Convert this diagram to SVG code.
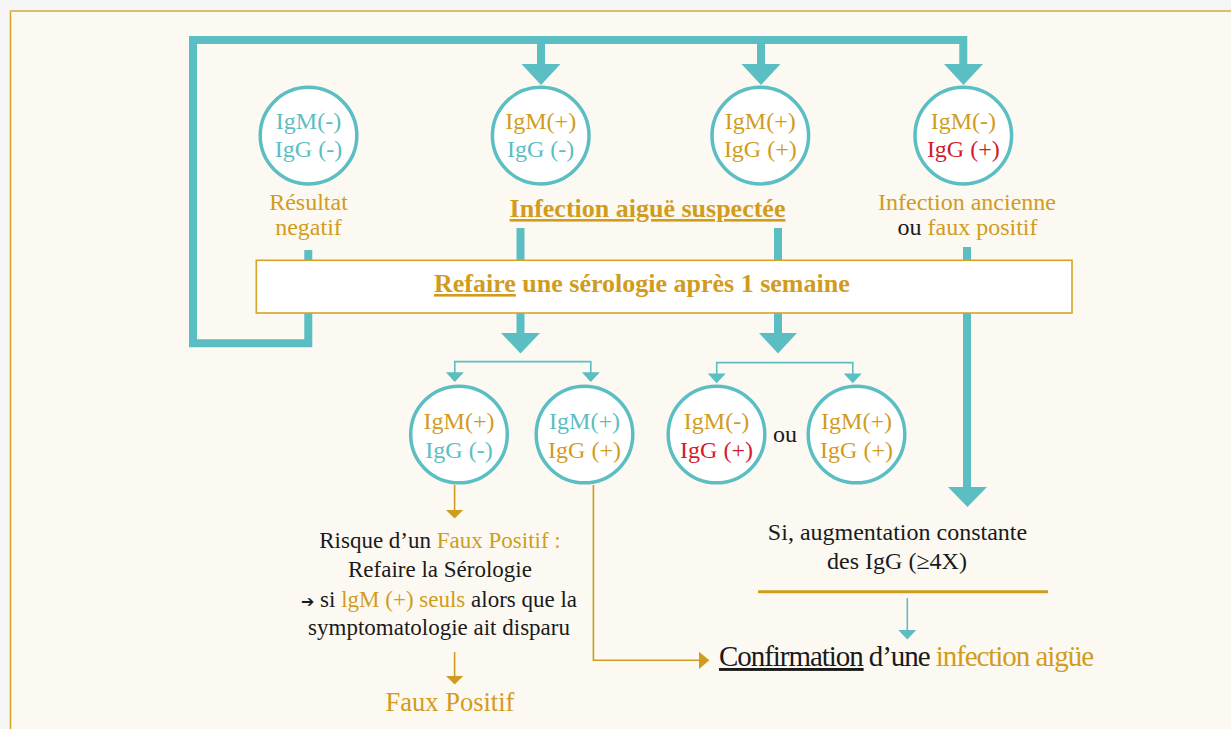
<svg xmlns="http://www.w3.org/2000/svg" width="1231" height="729" viewBox="0 0 1231 729">
  <style>
    text { font-family: "Liberation Serif", "Times New Roman", serif; font-size: 24px; }
    .mid { text-anchor: middle; }
    .gold { fill: #d19c1d; }
    .teal { fill: #5bbec2; }
    .red { fill: #d31a2c; }
    .blk { fill: #1a1a1a; }
    .bold { font-weight: bold; font-size: 26px; }
    .ul { text-decoration: underline; }
    .s23 { font-size: 23px; }
    .s26 { font-size: 26.5px; }
    .s29 { font-size: 29px; }
    .arrowglyph { font-family: "DejaVu Sans", sans-serif; font-size: 16px; }
    .circ { fill: #ffffff; stroke: #5bbec2; stroke-width: 3.5; }
    .thick { fill: none; stroke: #5bbec2; stroke-width: 8; stroke-linejoin: miter; }
    .thinT { fill: none; stroke: #5bbec2; stroke-width: 1.6; }
    .thinG { fill: none; stroke: #d19c1d; stroke-width: 1.6; }
    .headT { fill: #5bbec2; }
    .headG { fill: #d19c1d; }
  </style>
  <rect x="0" y="0" width="1231" height="729" fill="#f5f5f5"/>
  <rect x="10.5" y="11" width="1230" height="730" fill="#fcf9f2" stroke="#d6a424" stroke-width="1.5"/>
  <line x1="10" y1="11" x2="1231" y2="11" stroke="#dcbd6e" stroke-width="2"/>

  <g id="connectors">
    <path class="thick" d="M308.3,250 V343.3 H193 V40 H963.3 V66"/>
    <path class="thick" d="M541,40 V66"/>
    <path class="thick" d="M761,40 V66"/>
    <polygon class="headT" points="521.5,64 560.5,64 541,85"/>
    <polygon class="headT" points="741.5,64 780.5,64 761,85"/>
    <polygon class="headT" points="944,64 983,64 963.5,85"/>
    <path class="thick" d="M520.5,228 V335"/>
    <path class="thick" d="M778,228 V335"/>
    <polygon class="headT" points="501,333 540,333 520.5,353.5"/>
    <polygon class="headT" points="759,333 797,333 778,353.5"/>
    <path class="thick" d="M967,247 V490"/>
    <polygon class="headT" points="948,487 987,487 967.5,507"/>
    <path class="thinT" d="M454.8,373 V361.6 H590.8 V373"/>
    <polygon class="headT" points="445.8,372.3 463.8,372.3 454.8,382"/>
    <polygon class="headT" points="581.8,372.3 599.8,372.3 590.8,382"/>
    <path class="thinT" d="M716.7,374 V362.6 H852.8 V374"/>
    <polygon class="headT" points="707.7,373.5 725.7,373.5 716.7,383.3"/>
    <polygon class="headT" points="843.8,373.5 861.8,373.5 852.8,383.3"/>
    <path class="thinG" d="M454.6,485 V511"/>
    <polygon class="headG" points="446,510 463.2,510 454.6,518.5"/>
    <path class="thinG" d="M454.6,652 V677"/>
    <polygon class="headG" points="446,676 463.2,676 454.6,684.5"/>
    <path class="thinG" d="M593.4,485 V660.3 H700"/>
    <polygon class="headG" points="699,651.7 699,669 709.3,660.3"/>
    <line x1="758" y1="591.7" x2="1048" y2="591.7" stroke="#d19c1d" stroke-width="3"/>
    <path class="thinT" d="M907.3,598 V631"/>
    <polygon class="headT" points="898.3,630 916.3,630 907.3,639.5"/>
  </g>

  <g id="box-refaire">
    <rect x="256.3" y="260.3" width="815.7" height="52.7" fill="#ffffff" stroke="#d6a424" stroke-width="1.6"/>
    <text class="bold gold" x="434" y="292"><tspan class="ul">Refaire</tspan> une sérologie après 1 semaine</text>
  </g>

  <g id="node-negatif">
    <circle class="circ" cx="308.5" cy="135.6" r="48.3"/>
    <text class="mid teal" x="308.5" y="129.3">IgM(-)</text>
    <text class="mid teal" x="308.5" y="156.7">IgG (-)</text>
    <text class="mid gold" x="308.5" y="209.5">Résultat</text>
    <text class="mid gold" x="308.5" y="235">negatif</text>
  </g>

  <g id="node-igm-pos-igg-neg">
    <circle class="circ" cx="540.7" cy="135.6" r="48.3"/>
    <text class="mid gold" x="540.7" y="129.3">IgM(+)</text>
    <text class="mid teal" x="540.7" y="156.7">IgG (-)</text>
  </g>

  <g id="node-igm-pos-igg-pos">
    <circle class="circ" cx="760.3" cy="135.6" r="48.3"/>
    <text class="mid gold" x="760.3" y="129.3">IgM(+)</text>
    <text class="mid gold" x="760.3" y="156.7">IgG (+)</text>
  </g>

  <g id="label-suspectee">
    <text class="mid bold gold ul" x="647.5" y="217">Infection aiguë suspectée</text>
  </g>

  <g id="node-ancienne">
    <circle class="circ" cx="963.3" cy="135.6" r="48.3"/>
    <text class="mid gold" x="963.3" y="129.3">IgM(-)</text>
    <text class="mid red" x="963.3" y="156.7">IgG (+)</text>
    <text class="mid gold" x="967" y="210">Infection ancienne</text>
    <text class="mid gold" x="967.5" y="235"><tspan class="blk">ou</tspan> faux positif</text>
  </g>

  <g id="node-low-1">
    <circle class="circ" cx="459" cy="434.5" r="48.3"/>
    <text class="mid gold" x="459" y="429">IgM(+)</text>
    <text class="mid teal" x="459" y="457.5">IgG (-)</text>
  </g>

  <g id="node-low-2">
    <circle class="circ" cx="584.5" cy="434.5" r="48.3"/>
    <text class="mid teal" x="584.5" y="429">IgM(+)</text>
    <text class="mid gold" x="584.5" y="457.5">IgG (+)</text>
  </g>

  <g id="node-low-3">
    <circle class="circ" cx="716.5" cy="434.5" r="48.3"/>
    <text class="mid gold" x="716.5" y="429">IgM(-)</text>
    <text class="mid red" x="716.5" y="457.5">IgG (+)</text>
  </g>

  <g id="label-ou">
    <text class="mid blk" x="785" y="442">ou</text>
  </g>

  <g id="node-low-4">
    <circle class="circ" cx="856.5" cy="434.5" r="48.3"/>
    <text class="mid gold" x="856.5" y="429">IgM(+)</text>
    <text class="mid gold" x="856.5" y="457.5">IgG (+)</text>
  </g>

  <g id="node-risque">
    <text class="mid blk s23" x="440" y="548">Risque d’un <tspan class="gold">Faux Positif :</tspan></text>
    <text class="mid blk s23" x="440" y="577">Refaire la Sérologie</text>
    <text class="mid blk s23" x="439" y="606.5"><tspan class="arrowglyph">➔</tspan> si <tspan class="gold">lgM (+) seuls</tspan> alors que la</text>
    <text class="mid blk s23" x="439" y="635">symptomatologie ait disparu</text>
  </g>

  <g id="node-faux-positif">
    <text class="mid gold s26" x="450" y="711">Faux Positif</text>
  </g>

  <g id="node-augmentation">
    <text class="mid blk" x="897.5" y="540">Si, augmentation constante</text>
    <text class="mid blk" x="897" y="569">des IgG (≥4X)</text>
  </g>

  <g id="node-confirmation">
    <text class="blk s29" x="719" y="666" textLength="375" lengthAdjust="spacing"><tspan class="ul">Confirmation</tspan> d’une <tspan class="gold">infection aigüe</tspan></text>
  </g>
</svg>
